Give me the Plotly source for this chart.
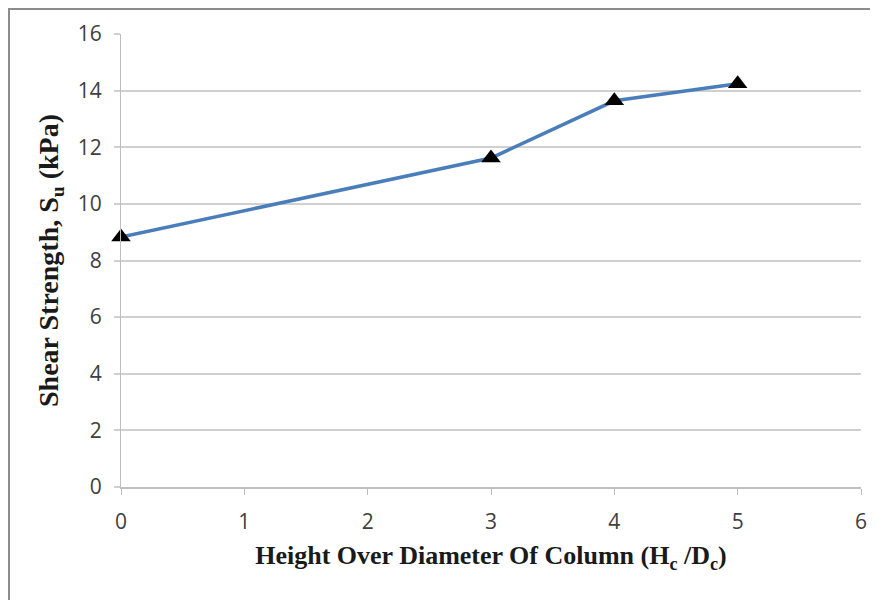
import plotly.graph_objects as go

x_vals = [0, 3, 4, 5]
shear_strength = [8.83, 11.62, 13.64, 14.24]
x_ticks = [0, 1, 2, 3, 4, 5, 6]
y_ticks = [0, 2, 4, 6, 8, 10, 12, 14, 16]

fig = go.Figure()
fig.add_trace(go.Scatter(
    x=x_vals, y=shear_strength, mode="lines+markers",
    line=dict(color="#4a7ebb", width=3.5),
    marker=dict(symbol="triangle-up", size=17, color="black"),
    showlegend=False, cliponaxis=False,
))

# page is offset by the 8px body margin
OFF = 8
W, H = 878 - OFF, 600 - OFF
L, R, T, B = 121 - OFF, 17, 34 - OFF, 113
pw, ph = W - L - R, H - T - B

def px(x):
    return (x - OFF - L) / pw

def py(y):
    return (H - B - (y - OFF)) / ph

fig.add_shape(type="rect", xref="paper", yref="paper",
              x0=px(9), x1=px(884), y0=py(620), y1=py(9),
              line=dict(color="#8c8c8c", width=2), fillcolor="rgba(0,0,0,0)")

tick_font = dict(family="Open Sans, Liberation Sans, sans-serif", size=21, color="#404040")
serif = "Liberation Serif, Times New Roman, serif"

fig.update_layout(
    width=W, height=H,
    margin=dict(l=L, r=R, t=T, b=B),
    paper_bgcolor="white", plot_bgcolor="white",
    xaxis=dict(
        range=[0, 6], tickvals=x_ticks, ticktext=[str(v) for v in x_ticks],
        tickfont=tick_font, ticklabelstandoff=9,
        showgrid=False, zeroline=False,
        showline=True, linecolor="#bfbfbf", linewidth=2,
        ticks="outside", ticklen=6, tickcolor="#bfbfbf", tickwidth=1,
        title=dict(text="<b>Height Over Diameter Of Column (H<sub>c</sub> /D<sub>c</sub>)</b>",
                   font=dict(family=serif, size=26, color="#1a1a1a"), standoff=12),
    ),
    yaxis=dict(
        range=[0, 16], tickvals=y_ticks, ticktext=[str(v) for v in y_ticks],
        tickfont=tick_font, ticklabelstandoff=8,
        showgrid=True, gridcolor="#d0d0d0", gridwidth=2, zeroline=False,
        showline=True, linecolor="#bfbfbf", linewidth=1,
        ticks="outside", ticklen=6, tickcolor="#d0d0d0", tickwidth=2,
        title=dict(text="<b>Shear Strength, S<sub>u</sub> (kPa)</b>",
                   font=dict(family=serif, size=28, color="#1a1a1a"), standoff=10),
    ),
)

fig.write_html("out.html")
